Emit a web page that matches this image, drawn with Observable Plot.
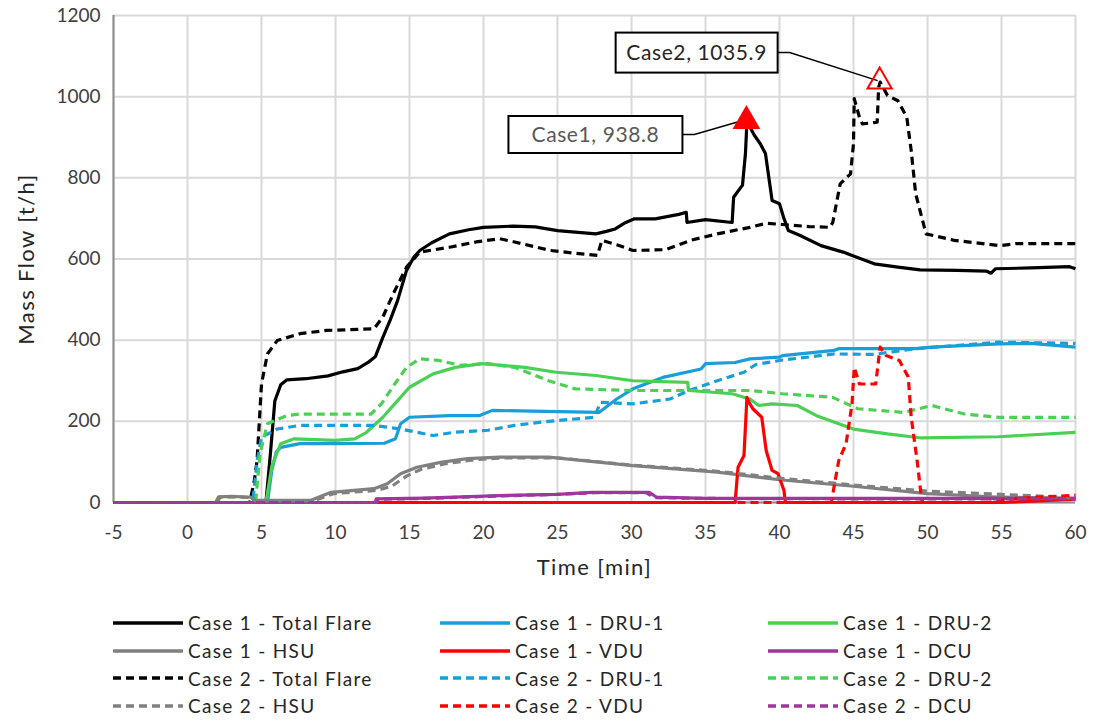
<!DOCTYPE html>
<html><head><meta charset="utf-8">
<script src="https://cdn.jsdelivr.net/npm/d3@7"></script>
<script src="https://cdn.jsdelivr.net/npm/@observablehq/plot@0.6"></script>
<style>
body{margin:0;background:#fff;font-family:Lato,"Open Sans",sans-serif;}
#chart svg{display:block;}
#legend{display:grid;grid-template-columns:327px 328px 300px;margin-left:113px;margin-top:9px;}
.item{display:flex;align-items:center;height:27.7px;font-size:19px;letter-spacing:1.3px;color:#262626;white-space:nowrap;}
.item svg{margin-right:5px;display:block;}
</style></head><body><div id="chart"></div><div id="legend"></div>
<script>
// ---- tick values ----
const xTicks = [-5,0,5,10,15,20,25,30,35,40,45,50,55,60];
const yTicks = [0,200,400,600,800,1000,1200];

// ---- series values: [time (min), mass flow (t/h)] ----
const c1Total = [[-5,0],[5.3,0],[5.6,120],[5.9,250],[6.3,290],[6.7,302],[8,305],[9.5,312],[10.5,322],[11.5,330],[12.2,345],[12.7,360],[13.2,407],[13.7,450],[14.2,498],[14.8,572],[15.3,605],[15.7,621],[16.5,640],[17.7,662],[19,672],[20,678],[22,681],[23.5,679],[25,670],[27.6,662],[28.3,668],[28.9,674],[29.5,688],[30.2,699],[31.6,699],[33.2,710],[33.7,715],[33.75,690],[35,697],[36.8,690],[36.9,752],[37.5,782],[37.7,860],[37.8,938.8],[38.3,905],[38.7,884],[39.05,860],[39.5,744],[40,736],[40.3,700],[40.6,670],[41.4,658],[42.8,633],[44.3,617],[46.4,588],[48,580],[49.5,573],[52,572],[54,570],[54.3,565],[54.6,576],[57,578],[59.6,581],[60,576]];
const c1Dru1 = [[-5,0],[5.4,0],[5.7,80],[6.0,125],[6.3,136],[7.6,145],[10,145],[13.3,146],[14.05,157],[14.4,194],[15,210],[17.7,214],[19.7,214],[20.6,227],[23.3,225],[27.8,222],[29,255],[30.1,280],[32.2,309],[34.7,329],[35,342],[37,345],[38,354],[40,358],[40.2,362],[43.7,375],[44,379],[49.2,379],[50.3,383],[54.8,391],[57,392],[60,383]];
const c1Dru2 = [[-5,0],[5.3,0],[5.7,90],[6.3,145],[7.2,157],[10,153],[11.3,157],[12.1,173],[13.2,210],[14,243],[15,284],[16.6,317],[18.1,333],[19.9,342],[22.8,333],[24.9,321],[27.6,313],[30.1,300],[33.8,296],[33.85,276],[36.8,268],[38,255],[38.6,239],[39.5,243],[41.2,239],[42.5,214],[45,181],[47.3,169],[49.6,159],[54.8,162],[60,173]];
const c1Hsu = [[-5,0],[1.9,0],[2.1,14],[3,15],[4.3,13],[4.5,5],[8.3,5],[9.7,25],[12.6,34],[13.5,46],[14.4,71],[15.5,87],[17.1,99],[18.9,108],[21.1,112],[24.4,112],[30.1,91],[35.8,75],[40,56],[45,40],[50,22],[55,13],[60,10]];
const c1Vdu = [[-5,0],[37,0],[37.2,87],[37.6,116],[37.8,259],[38,243],[38.2,231],[38.8,210],[39.1,128],[39.5,79],[39.9,71],[40.3,30],[40.4,0],[55,0],[60,8]];
const c1Dcu = [[-5,0],[12.7,0],[12.75,9],[16,11],[21.1,17],[25,20],[27.3,25],[31.2,25],[31.7,13],[35,10],[45,10],[60,10]];
const c2Total = [[-5,0],[4.2,0],[4.5,50],[4.7,103],[5.0,292],[5.4,366],[6.06,399],[7.6,416],[9.4,424],[11,426],[12.6,428],[13.2,457],[13.9,514],[14.8,580],[15.7,617],[17.7,629],[19.5,642],[21.1,650],[22.1,642],[24.5,621],[26,615],[27.7,609],[28,646],[29,635],[30.1,621],[32.3,623],[34,646],[35.8,662],[38,678],[39.1,688],[40.2,685],[42,680],[43.4,678],[43.6,690],[44.1,785],[44.8,810],[45.0,884],[45.05,995],[45.4,949],[45.6,933],[46.6,937],[46.7,1023],[46.8,1035.9],[47.3,1003],[48,990],[48.6,949],[48.9,867],[49.2,761],[49.9,662],[51.8,646],[54.9,633],[56,638],[60,638]];
const c2Dru1 = [[-5,0],[4.4,0],[4.7,100],[5.0,161],[6.06,181],[7.6,190],[12.6,190],[14.4,181],[16.6,165],[18,173],[20.3,178],[22.1,190],[24.4,200],[27.5,210],[27.9,247],[30.1,243],[32.6,255],[33.9,276],[35.8,300],[37.6,321],[38.4,340],[40,350],[43.7,366],[46.4,365],[49.2,379],[54.8,395],[60,392]];
const c2Dru2 = [[-5,0],[4.6,0],[4.9,120],[5.4,194],[6.7,214],[7.6,218],[12.4,218],[13.1,243],[14,292],[14.8,333],[15.7,354],[17,350],[18.4,338],[20.3,342],[22.1,333],[24.4,300],[26.2,280],[30.1,276],[38,276],[40.2,268],[43.6,259],[45.3,231],[48.4,222],[50.3,239],[52.5,218],[54.8,210],[60,210]];
const c2Hsu = [[-5,0],[2.0,0],[2.2,13],[3.2,14],[4.4,12],[4.6,4],[8.5,4],[9.9,22],[12.8,30],[13.8,40],[14.8,65],[15.8,82],[17.5,96],[19.5,106],[21.5,110],[25,110],[30.1,92],[35.8,77],[40,60],[45,43],[50,28],[55,20],[60,12]];
const c2Vdu = [[-5,0],[43.5,0],[44,103],[44.5,145],[44.9,243],[45.05,333],[45.4,292],[46.5,292],[46.8,383],[47.2,362],[48.1,350],[48.7,309],[48.9,210],[49.3,103],[49.6,8],[49.7,0],[54,0],[56,10],[60,18]];
const c2Dcu = [[-5,0],[12.8,0],[12.85,8],[16,10],[21,16],[25,20],[27.5,24],[31.0,24],[31.5,12],[35,10],[45,9],[60,9]];

// ---- peaks ----
const peakLabels = ["Case1, 938.8", "Case2, 1035.9"];
const peakTimes = [37.8, 46.8];
const peakValues = [938.8, 1035.9];

// ---- series names ----
const seriesNames = ["Case 1 - Total Flare","Case 1 - DRU-1","Case 1 - DRU-2","Case 1 - HSU","Case 1 - VDU","Case 1 - DCU",
  "Case 2 - Total Flare","Case 2 - DRU-1","Case 2 - DRU-2","Case 2 - HSU","Case 2 - VDU","Case 2 - DCU"];
const seriesData = [c1Total,c1Dru1,c1Dru2,c1Hsu,c1Vdu,c1Dcu,c2Total,c2Dru1,c2Dru2,c2Hsu,c2Vdu,c2Dcu];

// ---- styles ----
const unitColors = ["#000000","#189fd8","#4ccf55","#808080","#ff0000","#9e369b"];
const dashFor = i => i < 6 ? null : "8,5";
const colorFor = i => unitColors[i % 6];

const lineMarks = seriesData.map((arr, i) =>
  Plot.line(arr.map(([t, v]) => ({t, v})), {
    x: "t", y: "v", stroke: colorFor(i), strokeWidth: 3.2,
    strokeDasharray: dashFor(i), strokeLinejoin: "round", strokeLinecap: "butt"
  }));

const peaks = peakLabels.map((label, i) => ({label, t: peakTimes[i], v: peakValues[i], i}));

const plot = Plot.plot({
  width: 1094, height: 600,
  marginLeft: 113, marginRight: 19, marginTop: 15, marginBottom: 98,
  style: {fontFamily: "Lato, 'Open Sans', sans-serif", fontSize: "19px", color: "#404040", background: "white", overflow: "visible"},
  x: {domain: [-5, 60], label: null},
  y: {domain: [0, 1200], label: null},
  marks: [
    Plot.gridX({ticks: xTicks, stroke: "#d9d9d9", strokeOpacity: 1, strokeWidth: 2}),
    Plot.gridY({ticks: yTicks, stroke: "#d9d9d9", strokeOpacity: 1, strokeWidth: 2}),
    Plot.axisX({ticks: xTicks, tickSize: 0, tickPadding: 23, tickFormat: d => String(d), label: null, fontSize: 19}),
    Plot.axisY({ticks: yTicks, tickSize: 0, tickPadding: 13, tickFormat: d => String(d), label: null, fontSize: 19}),
    Plot.ruleX([-5], {stroke: "#8c8c8c", strokeWidth: 2}),
    Plot.ruleY([0], {stroke: "#8c8c8c", strokeWidth: 2}),
    ...lineMarks,
    Plot.text(["Time [min]"], {frameAnchor: "bottom", dy: 72, fontSize: 22, fill: "#262626", textAnchor: "middle", style: "letter-spacing:1.6px"}),
    Plot.text(["Mass Flow [t/h]"], {frameAnchor: "left", rotate: -90, dx: -87, fontSize: 22, fill: "#262626", textAnchor: "middle"})
  ]
});
document.getElementById("chart").appendChild(plot);
// slight letter spacing on axis titles to match the reference's wider type
d3.select(plot).selectAll("text").filter(function(){ return this.textContent === "Time [min]" || this.textContent === "Mass Flow [t/h]"; })
  .style("letter-spacing", "1.4px");

// ---- annotations (positioned from the peak data through the scales) ----
const sx = plot.scale("x"), sy = plot.scale("y");
const svg = d3.select(plot);
const ann = [
  {dx: -151, dy: 13.5, w: 174, h: 37, color: "#595959", fill: "#ff0000", stroke: "#ff0000"},
  {dx: -183, dy: -29, w: 162, h: 40, color: "#262626", fill: "none", stroke: "#ff0000"}
];
const g = svg.append("g");
peaks.forEach((p, i) => {
  const a = ann[i];
  const px = sx.apply(p.t), py = sy.apply(p.v);
  const cx = px + a.dx, cy = py + a.dy;
  const right = cx + a.w / 2;
  g.append("polyline")
    .attr("points", `${right},${cy} ${right + 12},${cy} ${px - 2},${py - 1}`)
    .attr("fill", "none").attr("stroke", "#000").attr("stroke-width", 1.5);
  g.append("rect").attr("x", cx - a.w / 2).attr("y", cy - a.h / 2)
    .attr("width", a.w).attr("height", a.h)
    .attr("fill", "white").attr("stroke", "#000").attr("stroke-width", 2);
  g.append("text").attr("x", cx).attr("y", cy).attr("dy", "0.35em")
    .attr("text-anchor", "middle").attr("font-size", 21).attr("fill", a.color)
    .style("letter-spacing", "0.6px")
    .attr("font-family", "Lato, 'Open Sans', sans-serif").text(p.label);
  const sym = d3.symbol(d3.symbolTriangle, 9 * 9 * Math.PI)();
  g.append("path").attr("d", sym).attr("transform", `translate(${px},${py})`)
    .attr("fill", a.fill).attr("stroke", a.stroke).attr("stroke-width", 2);
});

// ---- legend ----
const legend = document.getElementById("legend");
seriesNames.forEach((name, i) => {
  const item = document.createElement("div");
  item.className = "item";
  const dash = dashFor(i);
  item.innerHTML = `<svg width="70" height="10"><line x1="0" y1="5" x2="70" y2="5" stroke="${colorFor(i)}" stroke-width="3.5" ${dash ? `stroke-dasharray="${dash}"` : ""}/></svg><span>${name}</span>`;
  legend.appendChild(item);
});
</script>
</body></html>
